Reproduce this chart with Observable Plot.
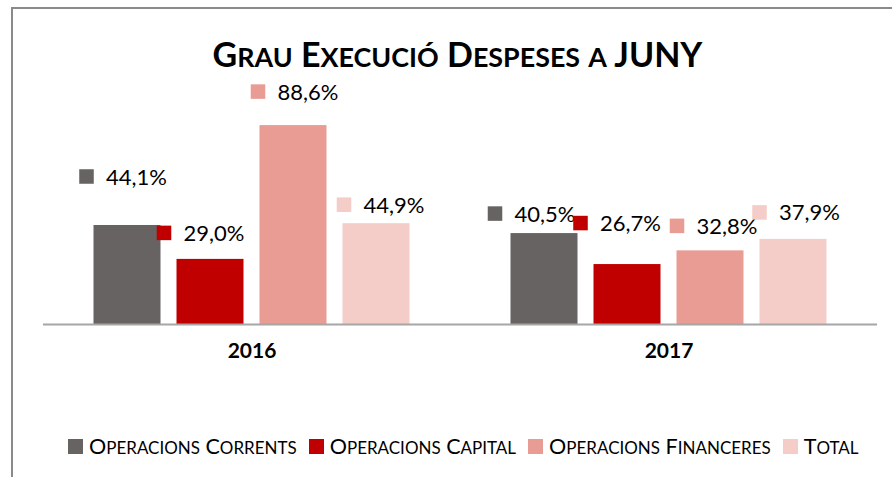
<!DOCTYPE html>
<html><head><meta charset="utf-8">
<script src="https://cdn.jsdelivr.net/npm/d3@7"></script>
<script src="https://cdn.jsdelivr.net/npm/@observablehq/plot@0.6"></script>
<style>
html,body{margin:0;padding:0;background:#fff;}
#wrap{position:relative;width:892px;height:477px;overflow:hidden;font-family:Lato,"Open Sans",sans-serif;}
#frame{position:absolute;left:11px;top:7px;width:900px;height:500px;border-left:2px solid #8a8a8a;border-top:2px solid #8a8a8a;box-sizing:border-box;}
#chart{position:absolute;left:0;top:0;}
#title{position:absolute;left:0;width:915px;top:37px;text-align:center;font-weight:bold;font-size:34px;line-height:1;color:#000;white-space:nowrap;}
#legend{position:absolute;left:68px;top:436px;display:flex;align-items:center;font-size:21.5px;line-height:1;color:#000;white-space:nowrap;}
#legend .sw{width:15px;height:15px;margin-right:6px;flex:none;}
#legend .lb{margin-right:12px;}
.sc{font-size:0.79em;}
</style>
</head><body>
<div id="wrap">
  <div id="frame"></div>
  <div id="chart"></div>
  <div id="title"></div>
  <div id="legend"></div>
</div>
<script>
const titleText = "Grau Execució Despeses a JUNY";
const years = ["2016", "2017"];
const series = ["Operacions Corrents", "Operacions Capital", "Operacions Financeres", "Total"];
const values2016 = [44.1, 29.0, 88.6, 44.9];
const values2017 = [40.5, 26.7, 32.8, 37.9];
const colors = ["#676362", "#c00000", "#e99c93", "#f4ccc8"];
// manual label nudges (px) relative to bar top centre, as in the source chart
const labelOffsets2016 = [[-41, -49], [-46.5, -26.5], [-35.5, -34], [-32.5, -19]];
const labelOffsets2017 = [[-49.5, -20], [-47, -41.5], [-33.5, -25], [-34, -27]];

const data = [];
years.forEach((yr, i) => {
  const vals = i === 0 ? values2016 : values2017;
  const offs = i === 0 ? labelOffsets2016 : labelOffsets2017;
  series.forEach((s, j) => data.push({year: yr, series: s, value: vals[j], color: colors[j], off: offs[j]}));
});
const fmt = v => v.toFixed(1).replace(".", ",") + "%";

const labelMarks = [];
data.forEach(d => {
  labelMarks.push(Plot.dot([d], {fx: "year", x: "series", y: "value", symbol: "square", r: 8.2, fill: d.color, dx: d.off[0], dy: d.off[1]}));
  labelMarks.push(Plot.text([d], {fx: "year", x: "series", y: "value", text: dd => fmt(dd.value), textAnchor: "start", dx: d.off[0] + 19.5, dy: d.off[1] + 1, fontSize: 22, fill: "#000"}));
});

const chart = Plot.plot({
  width: 892, height: 380,
  marginLeft: 42.5, marginRight: 14.5, marginTop: 99.5, marginBottom: 56,
  style: {fontFamily: "Lato, 'Open Sans', sans-serif", background: "transparent"},
  fx: {domain: years, padding: 0, axis: null},
  x: {domain: series, axis: null, paddingInner: 0.196, paddingOuter: 0.603},
  y: {domain: [0, 100], axis: null},
  color: {domain: series, range: colors},
  marks: [
    Plot.barY(data, {fx: "year", x: "series", y: "value", fill: "series"}),
    Plot.ruleY([0], {stroke: "#a6a6a6", strokeWidth: 2}),
    Plot.text(years, {fx: d => d, text: d => d, frameAnchor: "bottom", dy: 33, fontSize: 21, fontWeight: "bold", fill: "#000"}),
    ...labelMarks
  ]
});
document.getElementById("chart").appendChild(chart);

// small caps: capitals at full size, lowercase letters as reduced capitals
function smallCaps(el, text) {
  for (const ch of text) {
    if (ch !== ch.toUpperCase()) {
      const s = document.createElement("span");
      s.className = "sc"; s.textContent = ch.toUpperCase();
      el.appendChild(s);
    } else {
      el.appendChild(document.createTextNode(ch));
    }
  }
}
smallCaps(document.getElementById("title"), titleText);
const lg = document.getElementById("legend");
series.forEach((s, j) => {
  const sw = document.createElement("span"); sw.className = "sw"; sw.style.background = colors[j];
  const lb = document.createElement("span"); lb.className = "lb"; smallCaps(lb, s);
  lg.appendChild(sw); lg.appendChild(lb);
});
</script>
</body></html>
